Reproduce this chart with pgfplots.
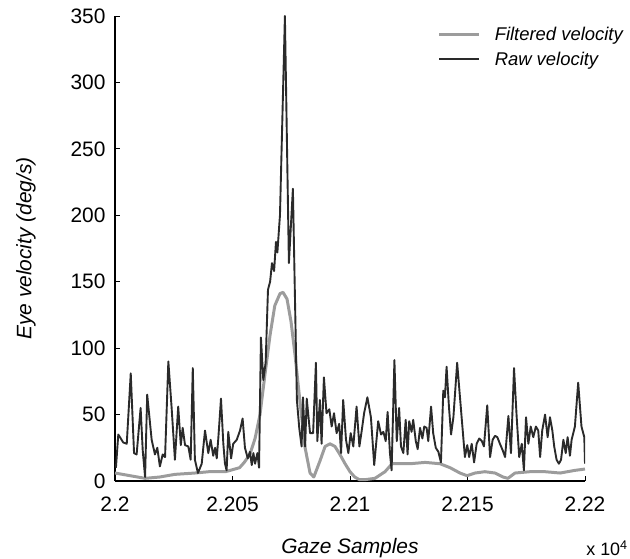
\documentclass[border=0pt]{standalone}
\usepackage{pgfplots}
\pgfplotsset{compat=1.18}
\usepackage{pgfplotstable}
\usepackage{fontspec}
\setmainfont{Liberation Sans}
\definecolor{rawc}{HTML}{2A2A2A}
\definecolor{filtc}{HTML}{9C9C9C}
\pgfplotstableread{
x y
22000.4 10
22001.4 35
22003.5 29
22005.0 28
22006.7 81
22008.1 21
22009.2 20
22010.9 55
22011.8 23
22012.8 3
22013.7 65
22015.6 31
22017.0 20
22018.0 25
22019.1 11
22020.3 20
22021.3 18
22022.7 90
22024.1 55
22025.5 16
22026.9 56
22028.0 27
22028.8 40
22029.8 27
22031.2 26
22032.2 16
22033.1 85
22034.0 16
22035.3 6
22036.9 13
22038.3 38
22039.7 21
22040.7 31
22041.8 19
22042.6 25
22043.3 17
22044.0 33
22045.1 62
22046.1 28
22046.8 13
22047.5 8
22048.2 37
22049.4 17
22050.3 28
22051.8 31
22053.2 38
22054.3 47
22055.3 25
22056.5 17
22057.4 22
22058.2 12
22058.9 21
22059.6 13
22060.6 21
22061.3 10
22062.1 108
22063.1 76
22064.1 89
22065.1 144
22066.0 150
22066.8 164
22067.7 158
22068.5 180
22069.1 172
22069.8 190
22070.2 200
22072.3 350
22074.0 164
22075.7 220
22077.4 61
22078.4 40
22079.4 26
22080.0 63
22080.9 26
22081.6 62
22083.0 36
22084.3 36
22085.5 89
22086.1 30
22087.2 61
22087.9 28
22088.9 78
22090.0 51
22091.2 54
22092.2 41
22093.2 51
22094.3 36
22095.4 43
22096.2 21
22097.1 61
22098.3 31
22099.3 21
22100.3 36
22101.4 26
22102.8 56
22104.0 26
22105.0 38
22106.0 51
22107.4 63
22108.9 48
22110.3 12
22112.0 45
22113.2 35
22114.2 37
22115.2 30
22116.0 52
22117.0 21
22117.7 8
22118.9 91
22119.9 30
22120.9 55
22121.7 26
22122.7 21
22123.7 46
22124.5 20
22125.2 45
22126.2 37
22126.9 46
22128.0 30
22128.8 24
22129.8 40
22130.8 32
22131.6 41
22132.6 40
22133.3 30
22134.5 56
22135.4 36
22136.5 25
22137.6 22
22138.7 14
22139.7 68
22140.4 63
22141.1 86
22142.1 56
22143.0 35
22144.0 48
22145.6 89
22146.8 63
22148.9 18
22149.9 27
22150.7 18
22151.8 28
22152.8 14
22153.9 28
22155.0 32
22156.1 30
22157.0 26
22158.4 57
22159.6 18
22160.7 31
22161.7 34
22162.7 33
22163.8 28
22165.0 23
22166.0 18
22167.4 49
22168.5 21
22169.8 85
22170.9 49
22172.0 18
22173.1 28
22174.0 8
22174.9 48
22175.9 28
22176.9 41
22178.0 33
22179.1 41
22180.1 38
22180.9 18
22181.8 38
22183.0 50
22184.1 33
22185.1 48
22186.1 38
22186.9 26
22187.9 16
22188.9 13
22189.8 16
22190.8 31
22191.8 21
22192.6 33
22193.6 19
22194.3 31
22195.7 41
22197.1 74
22198.5 41
22199.7 33
22200.0 13
}\rawdata
\pgfplotstableread{
x y
22000.0 6
22006.4 4
22012.8 2
22019.0 3
22025.5 5
22034.0 6
22040.0 7
22047.0 7
22053.0 10
22055.0 14
22057.4 20
22059.6 32
22061.7 50
22063.8 80
22066.0 110
22068.0 132
22070.2 141
22071.5 142
22073.2 137
22074.9 120
22076.6 95
22078.7 60
22080.9 25
22083.0 6
22084.6 3
22087.2 15
22089.4 26
22091.5 28
22093.6 26
22095.7 20
22097.9 13
22100.0 7
22102.0 3
22104.0 1
22106.4 1
22110.6 2
22114.9 7
22117.9 13
22119.0 13
22125.5 13
22132.0 14
22138.3 13
22142.6 10
22146.8 6
22149.8 4
22153.2 6
22157.4 7
22161.7 6
22165.1 3
22167.2 2
22170.2 6
22176.6 7
22183.0 7
22189.4 6
22195.7 8
22200.0 9
}\filtdata
\begin{document}
\begin{tikzpicture}
\useasboundingbox (-115bp,-78bp) rectangle (515bp,481bp);
\begin{axis}[
  scale only axis,
  width=470bp, height=465bp,
  xmin=22000, xmax=22200, ymin=0, ymax=350,
  axis x line*=bottom, axis y line*=left,
  axis line style={line width=1.4pt, black},
  tick align=inside,
  major tick length=5bp,
  tick style={line width=1pt, black},
  xtick={22000,22050,22100,22150,22200},
  xticklabels={2.2,2.205,2.21,2.215,2.22},
  scaled x ticks=false,
  ytick={0,50,...,350},
  /pgf/number format/assume math mode=true,
  ticklabel style={font=\fontsize{21}{25}\selectfont},
  yticklabel style={xshift=-6bp},
  xticklabel style={yshift=-12bp},
  xlabel={\itshape Gaze Samples},
  ylabel={\itshape Eye velocity (deg/s)},
  label style={font=\fontsize{21}{25}\selectfont},
  xlabel style={yshift=-20bp},
  ylabel style={yshift=28bp},
  legend style={draw=none, fill=none, at={(0.68,0.985)}, anchor=north west,
    font=\fontsize{18.5}{22}\selectfont\itshape, row sep=6bp, column sep=12bp,
    legend cell align=left},
  legend image code/.code={\draw[#1] (0bp,0bp) -- (40bp,0bp);},
]
\addplot[filtc, line width=3pt, line join=round] table[x=x,y=y]{\filtdata};
\addlegendentry{Filtered velocity}
\addplot[rawc, line width=1.9pt, line join=round] table[x=x,y=y]{\rawdata};
\addlegendentry{Raw velocity}
\end{axis}
\node[anchor=center, font=\fontsize{18}{22}\selectfont] at (492bp,-67bp) {x 10\textsuperscript{4}};
\end{tikzpicture}
\end{document}
